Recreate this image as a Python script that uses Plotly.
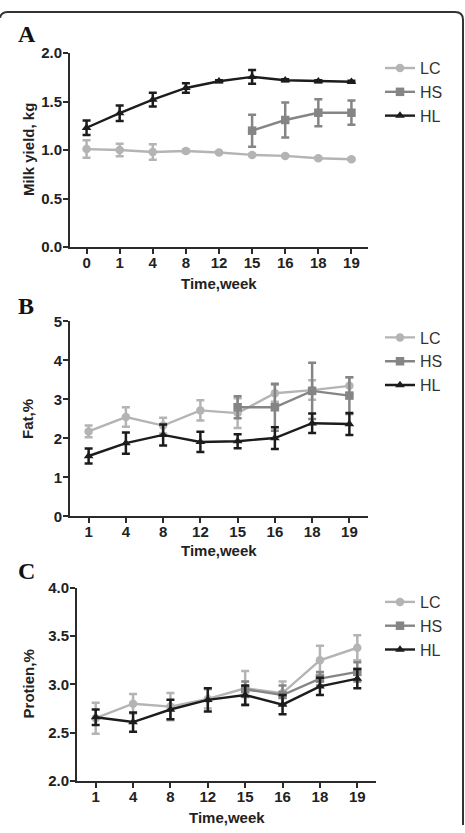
import plotly.graph_objects as go

W, H = 465, 833

# ---------------- data ----------------
weeks_a = ["0", "1", "4", "8", "12", "15", "16", "18", "19"]
lc_a = [1.01, 1.00, 0.98, 0.99, 0.975, 0.95, 0.94, 0.915, 0.905]
lc_a_err = [0.09, 0.065, 0.08, 0.015, 0.01, 0.01, 0.01, 0.01, 0.01]
hs_a_weeks = ["15", "16", "18", "19"]
hs_a = [1.20, 1.31, 1.385, 1.385]
hs_a_err = [0.165, 0.18, 0.14, 0.125]
hl_a = [1.23, 1.38, 1.52, 1.64, 1.71, 1.755, 1.72, 1.71, 1.705]
hl_a_err = [0.075, 0.08, 0.07, 0.05, 0.01, 0.07, 0.01, 0.01, 0.01]

weeks_b = ["1", "4", "8", "12", "15", "16", "18", "19"]
lc_b = [2.18, 2.55, 2.33, 2.72, 2.65, 3.16, 3.24, 3.35]
lc_b_err = [0.15, 0.25, 0.2, 0.26, 0.38, 0.22, 0.25, 0.22]
hs_b_weeks = ["15", "16", "18", "19"]
hs_b = [2.80, 2.80, 3.22, 3.10]
hs_b_err = [0.28, 0.6, 0.72, 0.47]
hl_b = [1.55, 1.88, 2.09, 1.91, 1.93, 2.01, 2.39, 2.37]
hl_b_err = [0.19, 0.27, 0.27, 0.26, 0.18, 0.28, 0.25, 0.28]
star_b_weeks = ["16", "18", "19"]
star_b_y = [2.47, 2.82, 2.82]

weeks_c = ["1", "4", "8", "12", "15", "16", "18", "19"]
lc_c = [2.65, 2.80, 2.77, 2.85, 2.96, 2.91, 3.25, 3.38]
lc_c_err = [0.16, 0.1, 0.14, 0.1, 0.18, 0.12, 0.15, 0.13]
hs_c_weeks = ["15", "16", "18", "19"]
hs_c = [2.95, 2.89, 3.06, 3.13]
hs_c_err = [0.08, 0.1, 0.07, 0.1]
hl_c = [2.66, 2.61, 2.74, 2.84, 2.89, 2.79, 2.98, 3.06]
hl_c_err = [0.08, 0.1, 0.1, 0.12, 0.1, 0.1, 0.09, 0.1]

series_names = ["LC", "HS", "HL"]
colors = {"LC": "#b4b4b4", "HS": "#858585", "HL": "#1c1c1c"}
symbols = {"LC": "circle", "HS": "square", "HL": "triangle-up"}

FONT = "Liberation Sans, Arial, sans-serif"

fig = go.Figure()

def px_x(p):
    return p / W

def px_y(p):
    return 1 - p / H

panels = [
    dict(name="A", x=(70, 368), y=(45, 243), yr=[0, 2.0], dt=0.5, tf=".1f",
         ytitle="Milk yield, kg", weeks=weeks_a,
         data={"LC": (weeks_a, lc_a, lc_a_err), "HS": (hs_a_weeks, hs_a, hs_a_err),
               "HL": (weeks_a, hl_a, hl_a_err)},
         legend_y=43, label_y=26, xtitle_y=280, ytitle_x=28),
    dict(name="B", x=(70, 368), y=(319, 518), yr=[0, 5], dt=1, tf="d",
         ytitle="Fat,%", weeks=weeks_b,
         data={"LC": (weeks_b, lc_b, lc_b_err), "HS": (hs_b_weeks, hs_b, hs_b_err),
               "HL": (weeks_b, hl_b, hl_b_err)},
         legend_y=318, label_y=303, xtitle_y=553, ytitle_x=28),
    dict(name="C", x=(77, 376), y=(591, 788), yr=[2.0, 4.0], dt=0.5, tf=".1f",
         ytitle="Protien,%", weeks=weeks_c,
         data={"LC": (weeks_c, lc_c, lc_c_err), "HS": (hs_c_weeks, hs_c, hs_c_err),
               "HL": (weeks_c, hl_c, hl_c_err)},
         legend_y=588, label_y=574, xtitle_y=825, ytitle_x=28),
]

layout_upd = {}
annotations = []
for i, p in enumerate(panels):
    k = "" if i == 0 else str(i + 1)
    xa, ya = "x" + k, "y" + k
    leg = "legend" if i == 0 else "legend" + str(i + 1)
    for s in series_names:
        xs, ys, es = p["data"][s]
        fig.add_trace(go.Scatter(
            x=xs, y=ys, name=s, mode="lines+markers",
            line=dict(color=colors[s], width=2.4),
            marker=dict(color=colors[s], symbol=symbols[s], size=8.5),
            error_y=dict(type="data", array=es, visible=True, color=colors[s],
                         thickness=2.5, width=4),
            xaxis=xa, yaxis=ya, legend=leg, cliponaxis=False,
        ))
    tickfont = dict(family=FONT, size=15, color="#222", weight="bold")
    layout_upd["xaxis" + k] = dict(
        domain=[px_x(p["x"][0]), px_x(p["x"][1])], anchor=ya,
        type="category", categoryorder="array", categoryarray=p["weeks"],
        range=[-0.5, len(p["weeks"]) - 0.5],
        showline=True, linecolor="#2b2b2b", linewidth=2,
        ticks="outside", ticklen=5, tickwidth=2, tickcolor="#2b2b2b",
        tickfont=tickfont, ticklabelstandoff=-4,
        showgrid=False, zeroline=False, fixedrange=True,
    )
    layout_upd["yaxis" + k] = dict(
        domain=[px_y(p["y"][1]), px_y(p["y"][0])], anchor=xa,
        range=p["yr"], dtick=p["dt"], tick0=p["yr"][0], tickformat=p["tf"],
        showline=True, linecolor="#2b2b2b", linewidth=2,
        ticks="outside", ticklen=5, tickwidth=2, tickcolor="#2b2b2b",
        tickfont=tickfont, ticklabelstandoff=-2,
        showgrid=False, zeroline=False, fixedrange=True,
    )
    layout_upd[leg] = dict(
        x=px_x(380), y=px_y(p["legend_y"]), xanchor="left", yanchor="top",
        font=dict(family=FONT, size=16, color="#333"),
        bgcolor="rgba(0,0,0,0)", tracegroupgap=0, itemclick=False,
    )
    # panel label
    annotations.append(dict(text="<b>" + p["name"] + "</b>", xref="paper", yref="paper",
                            x=px_x(16), y=px_y(p["label_y"]), xanchor="left", yanchor="middle",
                            showarrow=False,
                            font=dict(family="Liberation Serif, Times New Roman, serif", size=24, color="#111")))
    # x title
    annotations.append(dict(text="<b>Time,week</b>", xref="paper", yref="paper",
                            x=px_x((p["x"][0] + p["x"][1]) / 2), y=px_y(p["xtitle_y"]),
                            xanchor="center", yanchor="middle", showarrow=False,
                            font=dict(family=FONT, size=15, color="#222")))
    # y title
    annotations.append(dict(text="<b>" + p["ytitle"] + "</b>", xref="paper", yref="paper",
                            x=px_x(p["ytitle_x"]), y=px_y((p["y"][0] + p["y"][1]) / 2),
                            xanchor="center", yanchor="middle", textangle=-90, showarrow=False,
                            font=dict(family=FONT, size=15, color="#222")))

# significance stars in panel B
for wk, yv in zip(star_b_weeks, star_b_y):
    annotations.append(dict(text="*", x=wk, y=yv, xref="x2", yref="y2", showarrow=False,
                            font=dict(family=FONT, size=12, color="#555")))

# frame (top and right edges with rounded corners)
frame_path = (f"M {px_x(0)},{px_y(9)} Q {px_x(1)},{px_y(3)} {px_x(8)},{px_y(3)} "
              f"L {px_x(455)},{px_y(3)} Q {px_x(463)},{px_y(3)} {px_x(463)},{px_y(11)} "
              f"L {px_x(463)},{px_y(833)}")

fig.update_layout(
    width=W, height=H, margin=dict(l=0, r=0, t=0, b=0),
    paper_bgcolor="white", plot_bgcolor="white",
    showlegend=True, annotations=annotations,
    shapes=[dict(type="path", path=frame_path, xref="paper", yref="paper",
                 line=dict(color="#333", width=2))],
    **layout_upd,
)

fig.write_html("out.html")
